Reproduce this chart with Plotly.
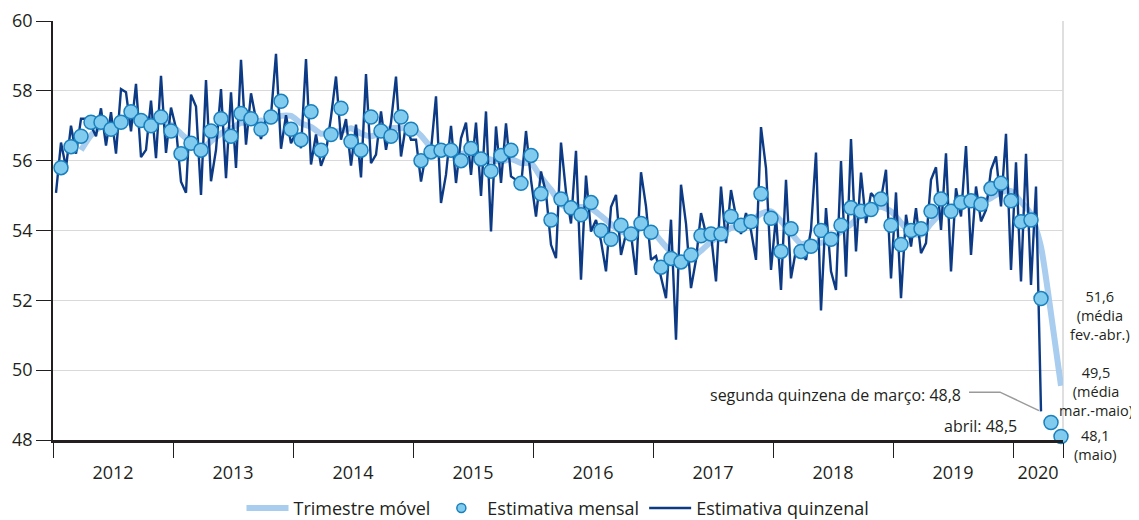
import plotly.graph_objects as go

# ---------------- data ----------------
anos = ["2012", "2013", "2014", "2015", "2016", "2017", "2018", "2019", "2020"]

# Estimativa mensal: Jan/2012 .. Mai/2020
mensal = [
    55.8, 56.4, 56.7, 57.1, 57.1, 56.9, 57.1, 57.4, 57.15, 57.0, 57.25, 56.85,
    56.2, 56.5, 56.3, 56.85, 57.2, 56.7, 57.35, 57.2, 56.9, 57.25, 57.7, 56.9,
    56.6, 57.4, 56.3, 56.75, 57.5, 56.55, 56.3, 57.25, 56.85, 56.7, 57.25, 56.9,
    56.0, 56.25, 56.3, 56.3, 56.0, 56.35, 56.05, 55.7, 56.15, 56.3, 55.35, 56.15,
    55.05, 54.3, 54.9, 54.65, 54.45, 54.8, 54.0, 53.75, 54.15, 53.9, 54.2, 53.95,
    52.95, 53.2, 53.1, 53.3, 53.85, 53.9, 53.9, 54.4, 54.15, 54.25, 55.05, 54.35,
    53.4, 54.05, 53.4, 53.55, 54.0, 53.75, 54.15, 54.65, 54.55, 54.6, 54.9, 54.15,
    53.6, 54.0, 54.05, 54.55, 54.9, 54.55, 54.8, 54.85, 54.75, 55.2, 55.35, 54.85,
    54.25, 54.3, 52.05, 48.5, 48.1,
]

# Estimativa quinzenal: 1a/2a quinzena, Jan/2012 .. Mar/2020
quinzenal = [
    55.08, 56.52, 55.8, 57.0, 56.2, 57.2, 57.2, 57.0, 56.7, 57.5, 56.43, 57.39,
    56.2, 58.05, 57.96, 56.84, 58.2, 56.1, 56.31, 57.72, 56.07, 58.43, 56.22, 57.52,
    56.93, 55.4, 55.08, 57.89, 57.55, 55.02, 58.31, 55.41, 56.31, 58.05, 55.5, 57.96,
    55.79, 58.89, 56.46, 57.93, 57.18, 56.62, 57.2, 57.3, 59.06, 56.34, 57.3, 56.5,
    56.8, 56.36, 58.91, 55.89, 56.75, 55.85, 56.25, 57.25, 58.41, 56.6, 57.19, 55.86,
    57.03, 55.52, 58.48, 55.93, 56.17, 57.41, 56.31, 57.09, 58.41, 56.12, 57.03, 56.6,
    56.6, 55.4, 56.22, 56.3, 57.84, 54.79, 55.6, 57.0, 55.36, 56.64, 57.09, 55.59,
    57.09, 54.99, 57.41, 53.97, 56.98, 55.36, 57.07, 55.55, 55.45, 55.25, 56.85, 55.45,
    54.4, 55.69, 55.07, 53.59, 53.21, 56.52, 55.1, 54.2, 56.28, 52.59, 55.57, 53.97,
    54.3, 53.7, 52.83, 54.67, 55.02, 53.3, 53.9, 53.9, 52.73, 55.67, 54.69, 53.16,
    53.27, 52.63, 52.06, 54.31, 50.87, 55.31, 54.2, 52.35, 53.16, 54.5, 53.9, 53.9,
    52.54, 55.26, 53.64, 55.16, 54.4, 53.9, 54.5, 54.0, 53.16, 56.96, 55.79, 52.87,
    54.4, 52.3, 55.45, 52.63, 53.45, 53.35, 53.16, 54.02, 56.23, 51.71, 54.64, 52.83,
    52.3, 55.99, 52.68, 56.62, 53.4, 55.66, 54.21, 55.07, 54.9, 54.9, 55.74, 52.63,
    55.09, 52.06, 54.45, 53.54, 54.64, 53.35, 53.64, 55.45, 55.81, 54.02, 56.21, 52.83,
    55.21, 54.4, 56.42, 53.3, 55.26, 54.26, 54.59, 55.74, 56.12, 54.69, 56.77, 52.87,
    55.95, 52.54, 56.2, 52.44, 55.26, 48.82,
]

# Trimestre móvel: Mar/2012 .. Mai/2020
trimestre = [
    56.30, 56.73, 56.97, 57.03, 57.03, 57.13, 57.22, 57.18, 57.13, 57.03,
    56.77, 56.52, 56.33, 56.55, 56.78, 56.92, 57.08, 57.08, 57.15, 57.12, 57.28, 57.28,
    57.07, 56.97, 56.77, 56.82, 56.85, 56.93, 56.78, 56.70, 56.80, 56.93, 56.93, 56.95,
    56.72, 56.38, 56.18, 56.28, 56.20, 56.22, 56.13, 56.03, 55.97, 56.05, 55.93, 55.93,
    55.52, 55.17, 54.75, 54.62, 54.67, 54.63, 54.42, 54.18, 53.97, 53.93, 54.08, 54.02,
    53.70, 53.37, 53.08, 53.20, 53.42, 53.68, 53.88, 54.07, 54.15, 54.27, 54.48, 54.55,
    54.27, 53.93, 53.62, 53.67, 53.65, 53.77, 53.97, 54.18, 54.45, 54.60, 54.68, 54.55,
    54.22, 53.92, 53.88, 54.20, 54.50, 54.67, 54.75, 54.73, 54.80, 54.93, 55.10, 55.13,
    54.82, 54.47, 53.53, 51.62, 49.55,
]

# ---------------- positions on a month-index axis ----------------
n_m = len(mensal)
x_mensal = [i + 0.8 for i in range(n_m)]
x_quinz = [k * 0.5 + 0.3 for k in range(len(quinzenal))]
x_trim = [i + 0.8 for i in range(n_m - len(trimestre), n_m)]

limites = [12 * j for j in range(len(anos))] + [n_m]
centros = [(limites[j] + limites[j + 1]) / 2 for j in range(len(anos))]

FONT = "Open Sans, Noto Sans, sans-serif"
TXT = "#231f20"
MARK_FILL = "#80cbee"
MARK_EDGE = "#1a80bd"

fig = go.Figure()

fig.add_trace(go.Scatter(
    x=x_trim, y=trimestre, mode="lines", name="Trimestre móvel",
    line=dict(color="#a8cdee", width=6, shape="spline", smoothing=0.6),
    legendrank=1, hoverinfo="skip",
))
fig.add_trace(go.Scatter(
    x=x_quinz, y=quinzenal, mode="lines", name="Estimativa quinzenal",
    line=dict(color="#0c3a85", width=2.4),
    legendrank=3,
))
fig.add_trace(go.Scatter(
    x=x_mensal, y=mensal, mode="markers", name="Estimativa mensal",
    marker=dict(size=14, color=MARK_FILL, line=dict(color=MARK_EDGE, width=1.5)),
    showlegend=False, legendgroup="mensal", cliponaxis=False,
))
# legend-only entry (small symbol, as in the reference)
fig.add_trace(go.Scatter(
    x=[None], y=[None], mode="markers", name="Estimativa mensal",
    marker=dict(size=9, color=MARK_FILL, line=dict(color=MARK_EDGE, width=1.5)),
    legendrank=2, legendgroup="mensal",
))

annotations = [
    dict(x=91.0, y=49.29, xref="x", yref="y", text="segunda quinzena de março: 48,8",
         xanchor="right", yanchor="middle", showarrow=False, font=dict(size=16, color=TXT)),
    dict(x=96.6, y=48.40, xref="x", yref="y", text="abril: 48,5",
         xanchor="right", yanchor="middle", showarrow=False, font=dict(size=16, color=TXT)),
    dict(x=1.0366, y=0.2983, xref="paper", yref="paper", text="51,6<br>(média<br>fev.-abr.)",
         xanchor="center", yanchor="middle", showarrow=False, align="center",
         font=dict(size=14.5, color=TXT)),
    dict(x=1.033, y=0.1167, xref="paper", yref="paper", text="49,5<br>(média<br>mar.-maio)",
         xanchor="center", yanchor="middle", showarrow=False, align="center",
         font=dict(size=14.5, color=TXT)),
    dict(x=1.0317, y=-0.0108, xref="paper", yref="paper", text="48,1<br>(maio)",
         xanchor="center", yanchor="middle", showarrow=False, align="center",
         font=dict(size=14.5, color=TXT)),
]

shapes = [
    # right frame
    dict(type="line", xref="paper", yref="paper", x0=1, x1=1, y0=0, y1=1,
         line=dict(color="#d4d4d4", width=1.5), layer="below"),
    # leader line for the March fortnight
    dict(type="path", xref="x", yref="y",
         path="M 91.6,49.37 L 94.7,49.37 L 98.6,48.84",
         line=dict(color="#9a9a9a", width=1.5)),
]

# the page body adds an 8 px offset, so the figure is sized/margined to compensate
fig.update_layout(
    width=1131, height=512,
    margin=dict(l=45, r=76, t=13, b=80, autoexpand=False),
    paper_bgcolor="white", plot_bgcolor="white",
    font=dict(family=FONT, color=TXT, size=18),
    showlegend=True,
    legend=dict(orientation="h", x=0.5, xanchor="center", y=-0.163, yanchor="middle",
                font=dict(size=18, color=TXT), itemsizing="trace",
                traceorder="normal", itemwidth=42),
    annotations=annotations,
    shapes=shapes,
    hovermode=False,
)

fig.update_xaxes(
    range=[0, n_m], showgrid=False, zeroline=False, automargin=False,
    showline=True, linecolor=TXT, linewidth=2.5,
    tickmode="array", tickvals=centros, ticktext=anos,
    ticks="outside", ticklen=15, tickcolor="rgba(0,0,0,0)",
    tickfont=dict(size=18, color=TXT),
    minor=dict(tickmode="array", tickvals=limites, ticks="outside",
               ticklen=15, tickcolor=TXT, tickwidth=1.2, showgrid=False),
)
fig.update_yaxes(
    range=[48, 60], dtick=2, tick0=48, automargin=False,
    showgrid=True, gridcolor="#d9d9d9", gridwidth=1.2, zeroline=False,
    showline=True, linecolor=TXT, linewidth=1.5,
    ticks="outside", ticklen=15, tickcolor=TXT, tickwidth=1.2,
    tickfont=dict(size=18, color=TXT),
)

fig.write_html("out.html")
